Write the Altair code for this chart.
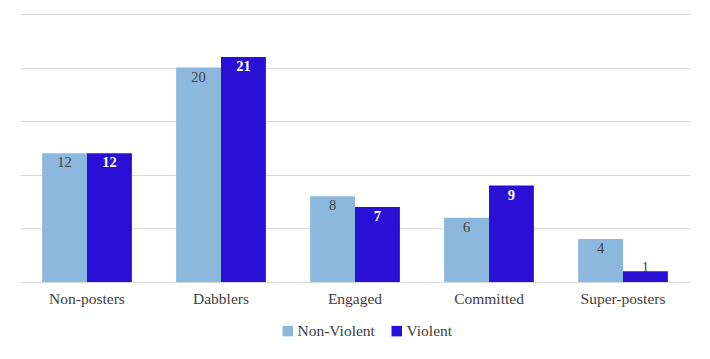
import altair as alt
import pandas as pd

categories = ["Non-posters", "Dabblers", "Engaged", "Committed", "Super-posters"]
non_violent = [12, 20, 8, 6, 4]
violent = [12, 21, 7, 9, 1]
series = ["Non-Violent", "Violent"]

rows = []
for c, nv, v in zip(categories, non_violent, violent):
    rows.append({"cat": c, "series": "Non-Violent", "value": nv})
    rows.append({"cat": c, "series": "Violent", "value": v})
df = pd.DataFrame(rows)

FONT = "Liberation Serif, Times New Roman, serif"

x = alt.X("cat:N", sort=categories, title=None,
          scale=alt.Scale(paddingInner=0.33, paddingOuter=0.165),
          axis=alt.Axis(labelAngle=0, domain=False, ticks=False, grid=False,
                        labelPadding=9, labelFont=FONT, labelFontSize=15.5,
                        labelColor="#404040"))
xo = alt.XOffset("series:N", sort=series)
y = alt.Y("value:Q", title=None, scale=alt.Scale(domain=[0, 25]),
          axis=alt.Axis(values=[0, 5, 10, 15, 20, 25], labels=False, ticks=False,
                        domain=False, grid=True, gridColor="#d9d9d9", gridWidth=1))

bars = alt.Chart(df).mark_bar().encode(
    x=x, xOffset=xo, y=y,
    color=alt.Color("series:N", sort=series,
                    scale=alt.Scale(domain=series, range=["#8db8de", "#2a0fd4"]),
                    legend=alt.Legend(title=None, orient="none", legendX=260, legendY=309,
                                      direction="horizontal", symbolType="square",
                                      symbolSize=110, symbolStrokeWidth=0,
                                      columnPadding=14, labelFont=FONT,
                                      labelFontSize=15.5, labelColor="#404040",
                                      symbolOpacity=1, labelOffset=2)),
)

labels_nv = alt.Chart(df).transform_filter(alt.datum.series == "Non-Violent").mark_text(
    baseline="top", dy=3, font=FONT, fontSize=14.5, color="#404040"
).encode(x=x, xOffset=xo, y=y, text="value:Q")

labels_v = alt.Chart(df).transform_filter(
    (alt.datum.series == "Violent") & (alt.datum.value > 1)
).mark_text(
    baseline="top", dy=3, font=FONT, fontSize=14.5, color="white", fontWeight="bold"
).encode(x=x, xOffset=xo, y=y, text="value:Q")

labels_v_small = alt.Chart(df).transform_filter(
    (alt.datum.series == "Violent") & (alt.datum.value <= 1)
).mark_text(
    baseline="top", dy=-10, font=FONT, fontSize=14.5, color="#404040"
).encode(x=x, xOffset=xo, y=y, text="value:Q")

chart = alt.layer(bars, labels_nv, labels_v, labels_v_small).properties(
    width=670, height=268,
    autosize=alt.AutoSizeParams(type="none"),
    padding={"left": 12, "top": 6, "right": 10, "bottom": 65},
    view=alt.ViewBackground(stroke="transparent"),
).configure_view(stroke="transparent").configure(
    background="white", font=FONT
)

chart.save("out.html", embed_options={"renderer": "svg", "actions": False})
